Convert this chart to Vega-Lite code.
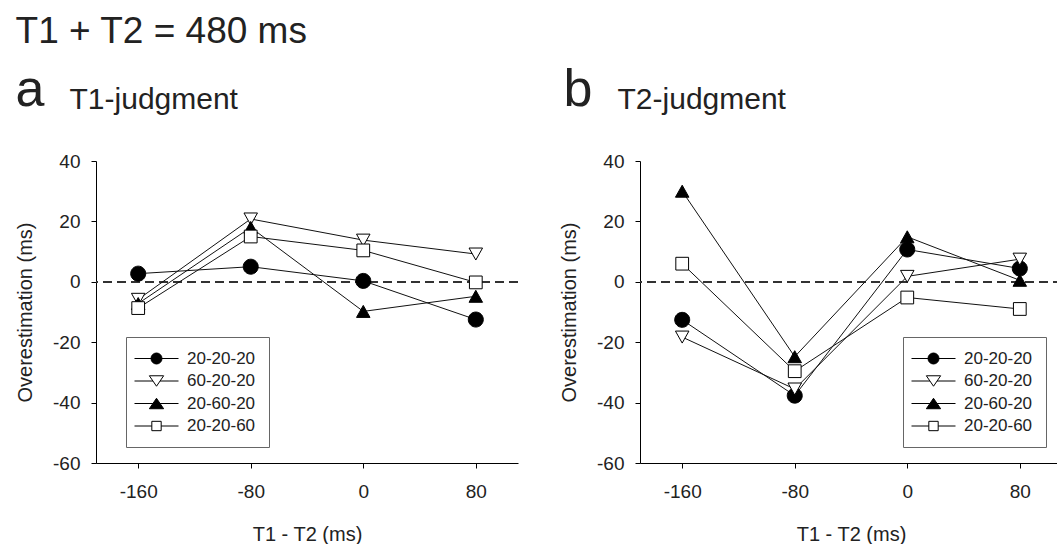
{
  "$schema": "https://vega.github.io/schema/vega-lite/v6.json",
  "background": "white",
  "padding": {"left": 15, "top": 13, "right": 0, "bottom": 2},
  "config": {
    "font": "Liberation Sans",
    "view": {"stroke": null},
    "axis": {
      "labelFont": "Liberation Sans", "labelFontSize": 19, "labelColor": "#222",
      "titleFont": "Liberation Sans", "titleFontSize": 20, "titleFontWeight": "normal", "titleColor": "#222",
      "grid": false, "domainColor": "black", "domainWidth": 1, "tickColor": "black", "tickSize": 5, "tickWidth": 1, "labelPadding": 11,
      "labelExpr": "'' + datum.value"
    },
    "axisX": {"labelPadding": 14, "titlePadding": 23},
    "axisY": {"titlePadding": 17},
    "title": {"font": "Liberation Sans", "fontWeight": "normal", "color": "#222", "anchor": "start", "frame": "bounds", "baseline": "alphabetic"},
    "concat": {"spacing": 40},
    "legend": {
      "labelFont": "Liberation Sans", "labelFontSize": 17, "labelColor": "#222",
      "labelExpr": "datum.label + '\u00a0\u00a0\u00a0'",
      "strokeColor": "#666", "fillColor": "white", "padding": 13,
      "symbolSize": 121, "symbolStrokeWidth": 1, "symbolStrokeColor": "black", "symbolOpacity": 1,
      "symbolOffset": 9, "labelOffset": 22, "rowPadding": 4.5
    }
  },
  "datasets": {
    "d": [
      {"panel": "T1", "cond": "20-20-20", "soa": -160, "over": 2.7},
      {"panel": "T1", "cond": "20-20-20", "soa": -80, "over": 5.0},
      {"panel": "T1", "cond": "20-20-20", "soa": 0, "over": 0.3},
      {"panel": "T1", "cond": "20-20-20", "soa": 80, "over": -12.5},
      {"panel": "T1", "cond": "60-20-20", "soa": -160, "over": -5.8},
      {"panel": "T1", "cond": "60-20-20", "soa": -80, "over": 20.8},
      {"panel": "T1", "cond": "60-20-20", "soa": 0, "over": 13.8},
      {"panel": "T1", "cond": "60-20-20", "soa": 80, "over": 9.2},
      {"panel": "T1", "cond": "20-60-20", "soa": -160, "over": -7.2},
      {"panel": "T1", "cond": "20-60-20", "soa": -80, "over": 18.0},
      {"panel": "T1", "cond": "20-60-20", "soa": 0, "over": -9.8},
      {"panel": "T1", "cond": "20-60-20", "soa": 80, "over": -4.8},
      {"panel": "T1", "cond": "20-20-60", "soa": -160, "over": -8.7},
      {"panel": "T1", "cond": "20-20-60", "soa": -80, "over": 15.0},
      {"panel": "T1", "cond": "20-20-60", "soa": 0, "over": 10.4},
      {"panel": "T1", "cond": "20-20-60", "soa": 80, "over": -0.2},
      {"panel": "T2", "cond": "20-20-20", "soa": -160, "over": -12.6},
      {"panel": "T2", "cond": "20-20-20", "soa": -80, "over": -37.7},
      {"panel": "T2", "cond": "20-20-20", "soa": 0, "over": 10.7},
      {"panel": "T2", "cond": "20-20-20", "soa": 80, "over": 4.4},
      {"panel": "T2", "cond": "60-20-20", "soa": -160, "over": -18.3},
      {"panel": "T2", "cond": "60-20-20", "soa": -80, "over": -35.5},
      {"panel": "T2", "cond": "60-20-20", "soa": 0, "over": 1.8},
      {"panel": "T2", "cond": "60-20-20", "soa": 80, "over": 7.5},
      {"panel": "T2", "cond": "20-60-20", "soa": -160, "over": 30.0},
      {"panel": "T2", "cond": "20-60-20", "soa": -80, "over": -24.8},
      {"panel": "T2", "cond": "20-60-20", "soa": 0, "over": 14.9},
      {"panel": "T2", "cond": "20-60-20", "soa": 80, "over": 0.5},
      {"panel": "T2", "cond": "20-20-60", "soa": -160, "over": 6.0},
      {"panel": "T2", "cond": "20-20-60", "soa": -80, "over": -29.6},
      {"panel": "T2", "cond": "20-20-60", "soa": 0, "over": -5.2},
      {"panel": "T2", "cond": "20-20-60", "soa": 80, "over": -9.0}
    ]
  },
  "title": {"text": "T1 + T2 = 480 ms", "fontSize": 37, "offset": 13, "dx": 0},
  "hconcat": [
    {
      "title": {"text": "a", "fontSize": 52, "offset": 0, "dy": 32, "dx": 0},
      "hconcat": [
        {
          "title": {"text": "T1-judgment", "fontSize": 30, "offset": 37, "dx": 54},
          "width": 422, "height": 302,
          "data": {"name": "d"},
          "transform": [{"filter": "datum.panel === 'T1'"}],
          "encoding": {
            "x": {"field": "soa", "type": "quantitative", "scale": {"domain": [-190, 110], "nice": false, "zero": false},
                  "axis": {"values": [-160, -80, 0, 80], "title": "T1 - T2 (ms)"}},
            "y": {"field": "over", "type": "quantitative", "scale": {"domain": [-60, 40], "nice": false},
                  "axis": {"values": [-60, -40, -20, 0, 20, 40], "title": "Overestimation (ms)"}}
          },
          "layer": [
            {"mark": {"type": "rule", "strokeDash": [9, 5], "color": "#333", "strokeWidth": 1}, "encoding": {"x": null, "y": {"datum": 0}}},
            {"mark": {"type": "line", "color": "#111", "strokeWidth": 1}, "encoding": {"detail": {"field": "cond"}}},
            {
              "mark": {"type": "point", "filled": false, "stroke": "black", "strokeWidth": 1, "opacity": 1, "size": 225},
              "encoding": {
                "shape": {"field": "cond", "type": "nominal", "legend": null, "scale": {"domain": ["20-20-20", "60-20-20", "20-60-20", "20-20-60"],
                  "range": ["M1,0A1,1,0,1,1,-1,0A1,1,0,1,1,1,0Z", "M-0.9,-0.8L0.9,-0.8L0,0.8Z", "M0,-0.8L0.9,0.8L-0.9,0.8Z", "M-0.85,-0.85L0.85,-0.85L0.85,0.85L-0.85,0.85Z"]}},
                "fill": {"field": "cond", "type": "nominal", "legend": null, "scale": {"domain": ["20-20-20", "60-20-20", "20-60-20", "20-20-60"], "range": ["black", "white", "black", "white"]}}
              }
            },
            {
              "mark": {"type": "point", "filled": false, "strokeWidth": 1, "opacity": 0},
              "encoding": {
                "shape": {"field": "cond", "type": "nominal", "scale": {"domain": ["20-20-20", "60-20-20", "20-60-20", "20-20-60"],
                  "range": ["M-4,0L-1,0M1,0L4,0M1,0A1,1,0,1,1,-1,0A1,1,0,1,1,1,0Z", "M-4,0L-0.65,0M0.65,0L4,0M-1.3,-0.95L1.3,-0.95L0,0.95Z", "M-4,0L-0.65,0M0.65,0L4,0M0,-0.95L1.3,0.95L-1.3,0.95Z", "M-4,0L-0.85,0M0.85,0L4,0M-0.85,-0.85L0.85,-0.85L0.85,0.85L-0.85,0.85Z"]},
                  "legend": {"title": null, "orient": "none", "legendX": 30, "legendY": 176,
                    "encode": {"symbols": {"update": {"stroke": {"value": "black"}, "strokeWidth": {"value": 1}, "opacity": {"value": 1}, "strokeOpacity": {"value": 1}}}}}},
                "fill": {"field": "cond", "type": "nominal", "scale": {"domain": ["20-20-20", "60-20-20", "20-60-20", "20-20-60"], "range": ["black", "white", "black", "white"]},
                  "legend": {"title": null, "orient": "none", "legendX": 30, "legendY": 176,
                    "encode": {"symbols": {"update": {"stroke": {"value": "black"}, "strokeWidth": {"value": 1}, "opacity": {"value": 1}, "strokeOpacity": {"value": 1}}}}}},
                "stroke": {"field": "cond", "type": "nominal", "scale": {"domain": ["20-20-20", "60-20-20", "20-60-20", "20-20-60"], "range": ["black", "black", "black", "black"]},
                  "legend": {"title": null, "orient": "none", "legendX": 30, "legendY": 176,
                    "encode": {"symbols": {"update": {"stroke": {"value": "black"}, "strokeWidth": {"value": 1}, "opacity": {"value": 1}, "strokeOpacity": {"value": 1}}}}}}
              }
            }
          ],
          "resolve": {"scale": {"shape": "independent", "fill": "independent", "stroke": "independent"}}
        }
      ]
    },
    {
      "title": {"text": "b", "fontSize": 52, "offset": 0, "dy": 32, "dx": 4},
      "hconcat": [
        {
          "title": {"text": "T2-judgment", "fontSize": 30, "offset": 37, "dx": 58},
          "width": 422, "height": 302,
          "data": {"name": "d"},
          "transform": [{"filter": "datum.panel === 'T2'"}],
          "encoding": {
            "x": {"field": "soa", "type": "quantitative", "scale": {"domain": [-190, 110], "nice": false, "zero": false},
                  "axis": {"values": [-160, -80, 0, 80], "title": "T1 - T2 (ms)"}},
            "y": {"field": "over", "type": "quantitative", "scale": {"domain": [-60, 40], "nice": false},
                  "axis": {"values": [-60, -40, -20, 0, 20, 40], "title": "Overestimation (ms)"}}
          },
          "layer": [
            {"mark": {"type": "rule", "strokeDash": [9, 5], "color": "#333", "strokeWidth": 1}, "encoding": {"x": null, "y": {"datum": 0}}},
            {"mark": {"type": "line", "color": "#111", "strokeWidth": 1}, "encoding": {"detail": {"field": "cond"}}},
            {
              "mark": {"type": "point", "filled": false, "stroke": "black", "strokeWidth": 1, "opacity": 1, "size": 225},
              "encoding": {
                "shape": {"field": "cond", "type": "nominal", "legend": null, "scale": {"domain": ["20-20-20", "60-20-20", "20-60-20", "20-20-60"],
                  "range": ["M1,0A1,1,0,1,1,-1,0A1,1,0,1,1,1,0Z", "M-0.9,-0.8L0.9,-0.8L0,0.8Z", "M0,-0.8L0.9,0.8L-0.9,0.8Z", "M-0.85,-0.85L0.85,-0.85L0.85,0.85L-0.85,0.85Z"]}},
                "fill": {"field": "cond", "type": "nominal", "legend": null, "scale": {"domain": ["20-20-20", "60-20-20", "20-60-20", "20-20-60"], "range": ["black", "white", "black", "white"]}}
              }
            },
            {
              "mark": {"type": "point", "filled": false, "strokeWidth": 1, "opacity": 0},
              "encoding": {
                "shape": {"field": "cond", "type": "nominal", "scale": {"domain": ["20-20-20", "60-20-20", "20-60-20", "20-20-60"],
                  "range": ["M-4,0L-1,0M1,0L4,0M1,0A1,1,0,1,1,-1,0A1,1,0,1,1,1,0Z", "M-4,0L-0.65,0M0.65,0L4,0M-1.3,-0.95L1.3,-0.95L0,0.95Z", "M-4,0L-0.65,0M0.65,0L4,0M0,-0.95L1.3,0.95L-1.3,0.95Z", "M-4,0L-0.85,0M0.85,0L4,0M-0.85,-0.85L0.85,-0.85L0.85,0.85L-0.85,0.85Z"]},
                  "legend": {"title": null, "orient": "none", "legendX": 263, "legendY": 176,
                    "encode": {"symbols": {"update": {"stroke": {"value": "black"}, "strokeWidth": {"value": 1}, "opacity": {"value": 1}, "strokeOpacity": {"value": 1}}}}}},
                "fill": {"field": "cond", "type": "nominal", "scale": {"domain": ["20-20-20", "60-20-20", "20-60-20", "20-20-60"], "range": ["black", "white", "black", "white"]},
                  "legend": {"title": null, "orient": "none", "legendX": 263, "legendY": 176,
                    "encode": {"symbols": {"update": {"stroke": {"value": "black"}, "strokeWidth": {"value": 1}, "opacity": {"value": 1}, "strokeOpacity": {"value": 1}}}}}},
                "stroke": {"field": "cond", "type": "nominal", "scale": {"domain": ["20-20-20", "60-20-20", "20-60-20", "20-20-60"], "range": ["black", "black", "black", "black"]},
                  "legend": {"title": null, "orient": "none", "legendX": 263, "legendY": 176,
                    "encode": {"symbols": {"update": {"stroke": {"value": "black"}, "strokeWidth": {"value": 1}, "opacity": {"value": 1}, "strokeOpacity": {"value": 1}}}}}}
              }
            }
          ],
          "resolve": {"scale": {"shape": "independent", "fill": "independent", "stroke": "independent"}}
        }
      ]
    }
  ]
}
